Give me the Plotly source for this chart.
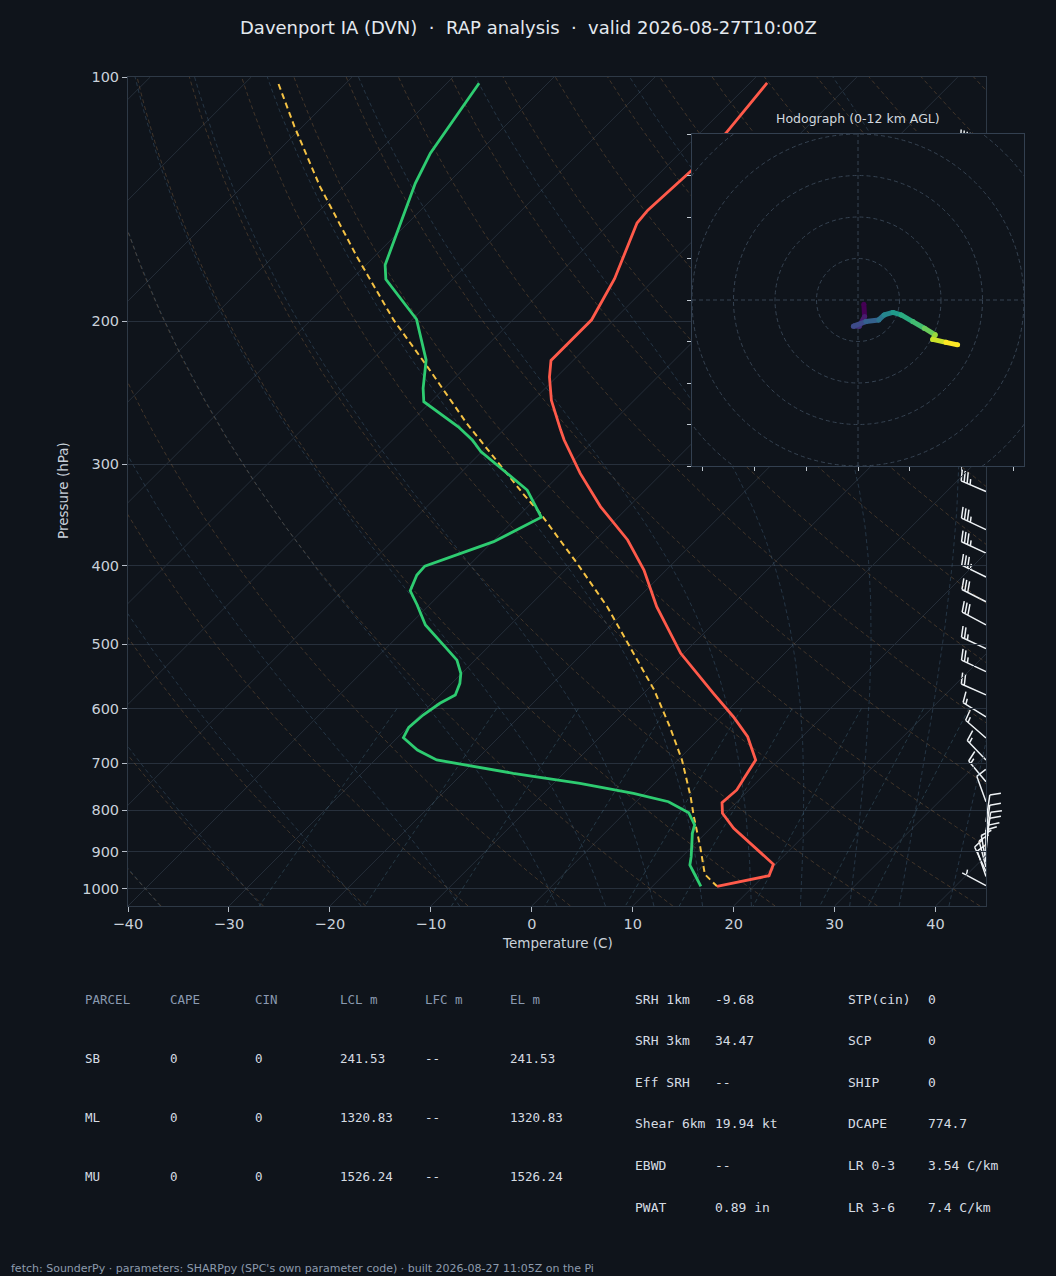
import numpy as np
import plotly.graph_objects as go
from plotly.colors import sample_colorscale

W, H = 1056, 1276

# ---------------- data ----------------
TEMP_P = [101.7, 117.4, 130.1, 145.9, 151.3, 177.2, 199.1, 223.4, 234.2, 250.2,
          272.4, 280.0, 307.8, 338.2, 371.8, 404.9, 449.3, 512.8, 574.3, 613.8,
          649.6, 693.9, 727.6, 755.5, 783.2, 807.2, 842.3, 932.8, 963.5, 993.0]
TEMP_C = [-58.3, -57.4, -57.1, -57.5, -57.3, -54.0, -52.2, -52.2, -50.7, -48.2,
          -44.3, -43.0, -38.1, -32.8, -26.8, -22.2, -17.3, -10.3, -3.1, 1.2,
          4.6, 7.7, 8.3, 8.8, 8.6, 9.7, 12.3, 19.8, 20.5, 16.4]

DEW_P = [101.8, 124.1, 135.2, 170.4, 177.5, 198.8, 223.2, 241.8, 251.2, 269.7,
         280.0, 289.4, 322.7, 348.6, 373.6, 386.1, 400.4, 410.7, 429.4, 447.1,
         473.2, 505.6, 522.7, 542.7, 558.4, 577.1, 590.9, 610.9, 632.6, 651.5,
         674.5, 693.9, 720.6, 741.3, 762.7, 781.1, 805.9, 834.4, 854.3, 912.9,
         934.8, 961.6, 993.0]
DEW_C = [-86.8, -84.7, -83.2, -78.1, -76.6, -69.6, -64.6, -62.1, -60.7, -54.8,
         -52.1, -50.1, -41.7, -37.6, -39.9, -42.0, -44.3, -44.2, -43.3, -41.2,
         -38.4, -34.0, -31.8, -30.1, -29.2, -28.5, -29.2, -29.7, -29.9, -29.4,
         -26.8, -23.9, -15.0, -7.4, -1.1, 3.2, 6.3, 8.1, 8.7, 10.9,
         11.6, 13.1, 14.8]

PARCEL_P = [102.0, 115.1, 136.5, 166.5, 199.2, 227.5, 267.1, 325.8, 344.7, 397.2,
            449.3, 512.8, 568.9, 631.5, 693.9, 770.1, 815.0, 887.3, 959.7, 993.0]
PARCEL_C = [-106.6, -100.8, -92.3, -81.7, -71.8, -63.8, -54.3, -41.8, -38.1, -29.5,
            -22.2, -15.0, -9.3, -4.1, 0.4, 4.9, 7.2, 10.8, 14.0, 16.4]

HODO_U = [1.4, 1.6, 0.3, -1.1, 1.9, 5.0, 6.3, 8.4, 10.4, 13.2, 16.0, 18.6, 18.0, 21.2, 24.0]
HODO_V = [-1.0, -4.0, -6.3, -6.3, -5.2, -4.8, -3.6, -3.0, -3.6, -5.2, -6.8, -8.4, -9.5, -10.2, -10.8]

BARB_P = [123, 137, 146, 156, 167, 179, 191, 204, 218, 233, 249, 266, 284, 300,
          324, 361, 386, 413, 443, 473, 506, 540, 577, 614, 652, 694, 738, 781,
          827, 851, 868, 883, 901, 914, 927, 940, 952, 966, 991]
BARB_SPD = [40, 40, 40, 40, 40, 40, 40, 40, 40, 40, 40, 35, 35, 35,
            35, 35, 35, 35, 30, 30, 25, 25, 20, 15, 15, 15, 15, 10,
            10, 10, 10, 10, 10, 10, 10, 10, 10, 10, 5]
BARB_DIR = [290, 290, 290, 290, 290, 290, 290, 290, 290, 290, 290, 290, 290, 290,
            293, 295, 295, 296, 297, 298, 295, 295, 294, 302, 311, 316, 320, 340,
            8, 8, 10, 8, 5, 0, 350, 345, 335, 341, 298]

P_TICKS = [100, 200, 300, 400, 500, 600, 700, 800, 900, 1000]
T_TICKS = [-40, -30, -20, -10, 0, 10, 20, 30, 40]
T_TICK_TEXT = ["\u221240", "\u221230", "\u221220", "\u221210", "0", "10", "20", "30", "40"]

TITLE = "Davenport IA (DVN)\u00a0 · \u00a0RAP analysis\u00a0 · \u00a0valid 2026-08-27T10:00Z"
FOOTER = "fetch: SounderPy · parameters: SHARPpy (SPC's own parameter code) · built 2026-08-27 11:05Z on the Pi"

PARCEL_HEAD = ["PARCEL", "CAPE", "CIN", "LCL m", "LFC m", "EL m"]
PARCEL_ROWS = [["SB", "0", "0", "241.53", "--", "241.53"],
               ["ML", "0", "0", "1320.83", "--", "1320.83"],
               ["MU", "0", "0", "1526.24", "--", "1526.24"]]
IDX_LABELS_1 = ["SRH 1km", "SRH 3km", "Eff SRH", "Shear 6km", "EBWD", "PWAT"]
IDX_VALUES_1 = ["-9.68", "34.47", "--", "19.94 kt", "--", "0.89 in"]
IDX_LABELS_2 = ["STP(cin)", "SCP", "SHIP", "DCAPE", "LR 0-3", "LR 3-6"]
IDX_VALUES_2 = ["0", "0", "0", "774.7", "3.54 C/km", "7.4 C/km"]

# ---------------- styling / geometry ----------------
BG = "#0f141b"
FRAME = "#2e3946"
GRID = "#27303c"
TXT = "#c9d1da"
P_BOTTOM, P_TOP = 1050.0, 100.0
T_MIN, T_MAX = -40.0, 45.0
SKEW = 80.5


def fx(x):
    return x / W


def fy(y):
    return 1 - y / H


def skew_x(t, p):
    return np.asarray(t, float) + SKEW * np.log10(P_BOTTOM / np.asarray(p, float))


fig = go.Figure()

# ---------------- background thermodynamic lines ----------------
def add_family(xs, ys, color, dash, width=1):
    fig.add_trace(go.Scatter(x=xs, y=ys, mode="lines", hoverinfo="skip",
                             line=dict(color=color, width=width, dash=dash),
                             xaxis="x", yaxis="y", showlegend=False))


# isotherms
xs, ys = [], []
for t in range(-160, 51, 10):
    xs += list(skew_x([t, t], [P_BOTTOM, P_TOP])) + [None]
    ys += [P_BOTTOM, P_TOP, None]
add_family(xs, ys, "#252e39", "solid")

p_line = np.linspace(P_BOTTOM, P_TOP, 191)
# dry adiabats
xs, ys = [], []
for t0 in range(-40, 251, 10):
    t = (t0 + 273.15) * (p_line / 1000.0) ** 0.2857 - 273.15
    xs += list(skew_x(t, p_line)) + [None]
    ys += list(p_line) + [None]
add_family(xs, ys, "rgba(170,120,70,0.32)", "4px,3px")

# moist adiabats
Rd, Lv, Cp, EPS = 287.04749, 2.50084e6, 1004.6662, 0.6219569


def es(T):
    return 6.112 * np.exp(17.67 * (T - 273.15) / (T - 29.65))


def dtdp(p, T):
    e = es(T)
    r = EPS * e / (p - e)
    return (Rd * T + Lv * r) / (Cp + Lv * Lv * r * EPS / (Rd * T * T)) / p


def rk4(p, T, h):
    k1 = dtdp(p, T)
    k2 = dtdp(p + h / 2, T + h * k1 / 2)
    k3 = dtdp(p + h / 2, T + h * k2 / 2)
    k4 = dtdp(p + h, T + h * k3)
    return T + h * (k1 + 2 * k2 + 2 * k3 + k4) / 6


i0 = int(np.argmin(np.abs(p_line - 1000.0)))
xs, ys = [], []
for t0 in [-40, -30, -20, -10, 0, 5, 10, 15, 20, 25, 30, 35, 40, 45]:
    T = np.empty_like(p_line)
    T[i0] = t0 + 273.15
    for i in range(i0, len(p_line) - 1):
        T[i + 1] = rk4(p_line[i], T[i], p_line[i + 1] - p_line[i])
    for i in range(i0, 0, -1):
        T[i - 1] = rk4(p_line[i], T[i], p_line[i - 1] - p_line[i])
    xs += list(skew_x(T - 273.15, p_line)) + [None]
    ys += list(p_line) + [None]
add_family(xs, ys, "rgba(80,118,150,0.34)", "4px,3px")

# mixing ratio lines
p_mix = np.linspace(600, P_BOTTOM, 60)
xs, ys = [], []
for w in [0.0004, 0.001, 0.002, 0.004, 0.007, 0.01, 0.016, 0.024, 0.032]:
    e = p_mix * w / (EPS + w)
    lg = np.log(e / 6.112)
    td = 243.5 * lg / (17.67 - lg)
    xs += list(skew_x(td, p_mix)) + [None]
    ys += list(p_mix) + [None]
add_family(xs, ys, "rgba(80,125,150,0.34)", "4px,3px")

# ---------------- profiles ----------------
fig.add_trace(go.Scatter(x=skew_x(PARCEL_C, PARCEL_P), y=PARCEL_P, mode="lines",
                         line=dict(color="#f5c244", width=2, dash="6px,4px"),
                         hoverinfo="skip", showlegend=False))
fig.add_trace(go.Scatter(x=skew_x(DEW_C, DEW_P), y=DEW_P, mode="lines",
                         line=dict(color="#2ecc71", width=2.8),
                         hoverinfo="skip", showlegend=False))
fig.add_trace(go.Scatter(x=skew_x(TEMP_C, TEMP_P), y=TEMP_P, mode="lines",
                         line=dict(color="#ff5a4a", width=2.8),
                         hoverinfo="skip", showlegend=False))

# ---------------- wind barbs ----------------
def barb_path(spd, wdir, L=27.0):
    th = np.deg2rad(wdir)
    sx, sy = np.sin(th), np.cos(th)
    qx, qy = sy, -sx
    parts = ["M0,0 L%.2f,%.2f" % (L * sx, L * sy)]
    s5 = int(round(spd / 5.0)) * 5
    nfull, nhalf = s5 // 10, (s5 % 10) // 5
    d = L
    sp, fh, fw = 0.12 * L, 0.4 * L, 0.25 * L
    for _ in range(nfull):
        bx, by = d * sx, d * sy
        parts.append("M%.2f,%.2f L%.2f,%.2f" % (bx, by, bx + fh * qx + fw / 2 * sx,
                                                by + fh * qy + fw / 2 * sy))
        d -= sp
    if nhalf:
        if nfull == 0:
            d -= 1.5 * sp
        bx, by = d * sx, d * sy
        parts.append("M%.2f,%.2f L%.2f,%.2f" % (bx, by, bx + fh / 2 * qx + fw / 4 * sx,
                                                by + fh / 2 * qy + fw / 4 * sy))
    return " ".join(parts)


for p, s, d in zip(BARB_P, BARB_SPD, BARB_DIR):
    fig.add_shape(type="path", xref="paper", yref="y", xsizemode="pixel", ysizemode="pixel",
                  xanchor=fx(986), yanchor=p, path=barb_path(s, d),
                  line=dict(color="#eef2f5", width=1.5), layer="below")

# ---------------- hodograph ----------------
n = len(HODO_U)
for i in range(n - 1):
    c = sample_colorscale("Viridis", i / (n - 2))[0]
    fig.add_trace(go.Scatter(x=HODO_U[i:i + 2], y=HODO_V[i:i + 2], mode="lines+markers",
                             line=dict(color=c, width=5), marker=dict(color=c, size=5),
                             xaxis="x2", yaxis="y2", hoverinfo="skip", showlegend=False))

for r in [10, 20, 30, 40, 50]:
    fig.add_shape(type="circle", xref="x2", yref="y2", x0=-r, x1=r, y0=-r, y1=r,
                  line=dict(color="#364352", width=1, dash="4px,3px"), layer="below")
fig.add_shape(type="line", xref="x2", yref="y2", x0=0, x1=0, y0=-40, y1=40,
              line=dict(color="#364352", width=1, dash="4px,3px"), layer="below")
fig.add_shape(type="line", xref="x2", yref="y2", x0=-40, x1=40, y0=0, y1=0,
              line=dict(color="#364352", width=1, dash="4px,3px"), layer="below")

# ---------------- text ----------------
ann = []


def text(x, y, s, size, color, family="DejaVu Sans", xanchor="left", angle=0):
    ann.append(dict(x=fx(x), y=fy(y), xref="paper", yref="paper", text=s, showarrow=False,
                    xanchor=xanchor, yanchor="middle", textangle=angle, borderpad=0,
                    font=dict(size=size, color=color, family=family)))


text(528, 27, TITLE, 18, "#e4e9ef", xanchor="center")
text(557, 943, "Temperature (C)", 13.5, TXT, xanchor="center")
text(63, 491, "Pressure (hPa)", 13.5, TXT, xanchor="center", angle=-90)
text(858, 119, "Hodograph (0-12 km AGL)", 12.5, "#d2d8df", xanchor="center")
text(10, 1268, FOOTER, 11, "#8d9bad")

MONO = "DejaVu Sans Mono"
for i, h in enumerate(PARCEL_HEAD):
    text(84 + 85 * i, 999, h, 12.5, "#8a9ab0", MONO)
for j, row in enumerate(PARCEL_ROWS):
    for i, v in enumerate(row):
        text(84 + 85 * i, 1058 + 59 * j, v, 12.5, "#d6dce3", MONO)
for k in range(6):
    yy = 999 + 41.6 * k
    text(634, yy, IDX_LABELS_1[k], 13, "#d6dce3", MONO)
    text(714, yy, IDX_VALUES_1[k], 13, "#d6dce3", MONO)
    text(847, yy, IDX_LABELS_2[k], 13, "#d6dce3", MONO)
    text(927, yy, IDX_VALUES_2[k], 13, "#d6dce3", MONO)

# ---------------- layout ----------------
fig.update_layout(
    width=W, height=H, margin=dict(l=0, r=0, t=0, b=0, pad=0),
    paper_bgcolor=BG, plot_bgcolor=BG, showlegend=False, hovermode=False,
    font=dict(family="DejaVu Sans", color=TXT),
    annotations=ann,
    xaxis=dict(domain=[fx(128), fx(986)], anchor="y", range=[T_MIN, T_MAX],
               tickvals=T_TICKS, ticktext=T_TICK_TEXT, showgrid=False, zeroline=False,
               showline=True, mirror=True, linecolor=FRAME, linewidth=1,
               ticks="outside", ticklen=5, tickcolor="#b5bdc7",
               tickfont=dict(size=14.5, color=TXT), automargin=False),
    yaxis=dict(domain=[fy(906), fy(77)], anchor="x", type="log",
               range=[np.log10(P_BOTTOM), np.log10(P_TOP)],
               tickvals=P_TICKS, ticktext=[str(v) for v in P_TICKS],
               showgrid=True, gridcolor=GRID, gridwidth=1, zeroline=False,
               showline=True, mirror=True, linecolor=FRAME, linewidth=1,
               ticks="outside", ticklen=5, tickcolor="#b5bdc7",
               tickfont=dict(size=14.5, color=TXT), automargin=False),
    xaxis2=dict(domain=[fx(692), fx(1024)], anchor="y2", range=[-40, 40],
                tickvals=[-37.5, -25, -12.5, 0, 12.5, 25, 37.5], showticklabels=False,
                showgrid=False, zeroline=False, showline=True, mirror=True,
                linecolor="#334050", ticks="outside", ticklen=4, tickcolor="#c0c8d0",
                automargin=False),
    yaxis2=dict(domain=[fy(466), fy(134)], anchor="x2", range=[-40, 40],
                tickvals=list(range(-40, 41, 10)), showticklabels=False,
                showgrid=False, zeroline=False, showline=True, mirror=True,
                linecolor="#334050", ticks="outside", ticklen=4, tickcolor="#c0c8d0",
                automargin=False),
)

fig.write_html("out.html", config={"displayModeBar": False},
               post_script="document.body.style.margin='0px';"
                           "document.body.style.background='%s';" % BG)
